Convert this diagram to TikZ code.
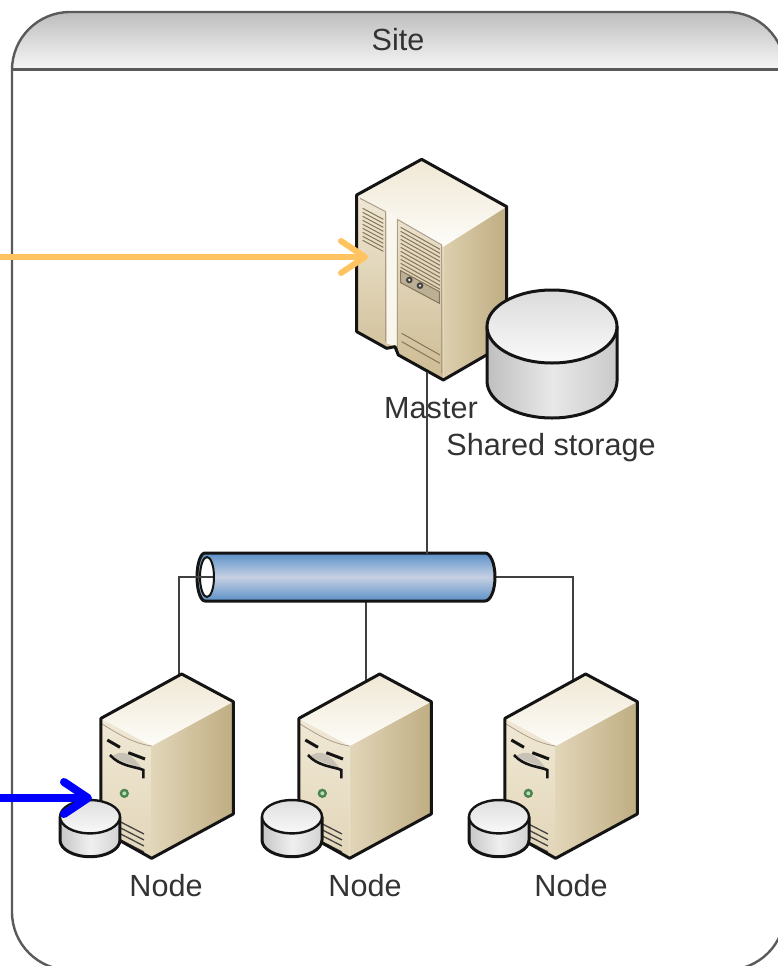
\documentclass[tikz,border=0pt]{standalone}
\usepackage{fontspec}
\setmainfont{Liberation Sans}
\usetikzlibrary{arrows.meta}
\definecolor{outline}{HTML}{141414}
\definecolor{beigeA}{HTML}{F0E8D5}
\definecolor{beigeB}{HTML}{DDCFAE}
\definecolor{beigeC}{HTML}{BFAD82}
\definecolor{beigeD}{HTML}{E2D6B9}
\definecolor{beigeE}{HTML}{CDBB92}
\definecolor{beigeTop}{HTML}{FDFCF8}
\definecolor{ventcol}{HTML}{85755A}
\definecolor{txtcol}{HTML}{333333}
\definecolor{framecol}{HTML}{5A5A5A}
\definecolor{amberline}{HTML}{FFC35F}
\definecolor{pipeA}{HTML}{5B90C8}
\definecolor{pipeB}{HTML}{C6D0E2}
\tikzset{
  lbl/.style={font=\fontsize{30.6}{36}\selectfont,text=txtcol,inner sep=0pt},
  shape outline/.style={draw=outline,line width=3pt,line join=round},
  conn/.style={draw=black!75,line width=1.6pt},
  flow/.style={line width=#1,line cap=round,-{Straight Barb[length=24pt,width=32pt,round]}},
  vent/.style={draw=ventcol,line width=1pt},
  minicyl/.pic={
    \begin{scope}[x=0.3333pt,y=-0.3333pt]
      \path[shade,left color=gray!45,right color=gray!35,middle color=gray!12]
        (-90,-45) -- (-90,25) arc[x radius=90,y radius=50,start angle=180,end angle=0] -- (90,-45) -- cycle;
      \draw[shape outline] (-90,-45) -- (-90,25) arc[x radius=90,y radius=50,start angle=180,end angle=0] -- (90,-45);
      \draw[shape outline,line width=2.4pt,top color=gray!25,bottom color=gray!5] (0,-45) ellipse[x radius=90,y radius=50];
    \end{scope}
  },
  nodesrv/.pic={
    \begin{scope}[x=0.3333pt,y=-0.3333pt]
      \shade[top color=beigeA,bottom color=beigeD] (303,175) -- (455,258) -- (455,595) -- (303,510) -- cycle;
      \shade[left color=beigeD,middle color=beigeA,right color=beigeC] (455,258) -- (700,125) -- (700,462) -- (455,595) -- cycle;
      \shade[top color=beigeA,bottom color=beigeTop] (303,175) -- (545,42) -- (700,125) -- (455,258) -- cycle;
      \draw[draw=ventcol!70,line width=.8pt] (303,190) .. controls (360,225) and (400,250) .. (455,258);
      \fill[ventcol!45!white] (335,290) .. controls (365,265) and (395,280) .. (425,325) -- (370,305) -- cycle;
      \draw[outline,line width=3pt] (322,240) -- (360,262);
      \draw[outline,line width=3pt] (385,278) -- (435,297);
      \draw[outline,line width=2.6pt] (330,285) .. controls (360,320) and (410,320) .. (430,330) -- (430,355);
      \fill[green!30!black!70] (373,400) circle[radius=14];
      \fill[green!40!gray!40] (373,400) circle[radius=6];
      \foreach \k in {0,1,2,3}{\draw[outline!80,line width=1.3pt] (360,{485+\k*18}) -- (432,{522+\k*18});}
      \draw[shape outline] (303,175) -- (545,42) -- (700,125) -- (700,462) -- (455,595) -- (303,510) -- cycle;
    \end{scope}
  }
}
\begin{document}
\begin{tikzpicture}[x=1pt,y=-1pt]
\useasboundingbox (0,0) rectangle (778,966);
\fill[white] (0,0) rectangle (778,966);

% frame
\begin{scope}
  \clip (0,0) rectangle (778,966);
  \begin{scope}
    \clip[rounded corners=58pt] (12,12) rectangle (785,200);
    \shade[top color=gray!52,bottom color=gray!6] (12,12) rectangle (785,70);
  \end{scope}
  \draw[framecol,line width=2.4pt,rounded corners=58pt] (12,12) rectangle (785,970);
  \draw[framecol,line width=3pt] (12,70) -- (785,70);
\end{scope}
\node[lbl] (site) at (398,40) {Site};

% anchor points
\coordinate (pipeL) at (213,577);
\coordinate (pipeR) at (495,577);
\coordinate (pipeT) at (427,554);
\coordinate (pipeB) at (366,600);
\coordinate (srvA) at (179,674);
\coordinate (srvB) at (366,682);
\coordinate (srvC) at (573,681);
\coordinate (mast) at (427,372);

% connectors beneath the shapes
\draw[conn] (pipeB) -- (srvB);
\draw[conn] (pipeR) -| (srvC);

% pipe
\path[shade,top color=pipeA,bottom color=pipeA,middle color=pipeB]
  (205,553) -- (485,553) arc[x radius=10,y radius=24,start angle=-90,end angle=90] -- (205,601) arc[x radius=8,y radius=24,start angle=90,end angle=270] -- cycle;
\draw[shape outline] (205,553) -- (485,553) arc[x radius=10,y radius=24,start angle=-90,end angle=90] -- (205,601) arc[x radius=8,y radius=24,start angle=90,end angle=270] -- cycle;
\draw[outline,line width=2pt,fill=white] (207,577) ellipse[x radius=7,y radius=20];
\draw[conn] (srvA) |- (pipeL);

% master server
\begin{scope}[shift={(340,150)},x=0.3333pt,y=-0.3333pt]
  \shade[top color=beigeA,bottom color=beigeE] (50,135) -- (310,290) -- (310,690) -- (175,615) -- (165,590) -- (140,595) -- (50,545) -- cycle;
  \shade[left color=beigeB,middle color=beigeA,right color=beigeC] (310,290) -- (500,170) -- (500,580) -- (310,690) -- cycle;
  \shade[top color=beigeA,bottom color=beigeTop] (50,135) -- (245,28) -- (500,170) -- (310,290) -- cycle;
  \fill[beigeTop!70!beigeA] (140,185) -- (170,195) -- (170,590) -- (140,580) -- cycle;
  \draw[ventcol!70,line width=1pt] (172,208) -- (305,285) -- (305,670);
  \draw[ventcol!70,line width=1pt] (172,208) -- (172,600);
  \draw[ventcol!70,line width=1pt] (60,145) -- (137,185) -- (137,575);
  \foreach \k in {0,...,8}{\draw[vent] (68,{175+\k*12}) -- (130,{208+\k*12});}
  \foreach \k in {0,...,10}{\draw[vent] (182,{232+\k*12}) -- (300,{298+\k*12});}
  \fill[beigeB!85!black] (182,362) -- (298,425) -- (298,460) -- (182,398) -- cycle;
  \draw[ventcol,line width=1pt] (182,362) -- (298,425) -- (298,460) -- (182,398) -- cycle;
  \fill[outline!80] (208,390) circle[radius=10] (240,407) circle[radius=10];
  \fill[beigeA] (208,390) circle[radius=4] (240,407) circle[radius=4];
  \draw[vent] (185,550) -- (300,615);
  \draw[vent] (185,575) -- (300,640);
  \draw[shape outline] (50,135) -- (245,28) -- (500,170) -- (500,580) -- (310,690) -- (175,615) -- (165,590) -- (140,595) -- (50,545) -- cycle;
\end{scope}

% shared storage
\path[shade,left color=gray!50,right color=gray!42,middle color=gray!18]
  (487,326) -- (487,381) arc[x radius=65,y radius=37,start angle=180,end angle=0] -- (617,326) -- cycle;
\draw[shape outline] (487,326) -- (487,381) arc[x radius=65,y radius=37,start angle=180,end angle=0] -- (617,326);
\draw[shape outline,top color=gray!28,bottom color=gray!4] (552,326.5) ellipse[x radius=65,y radius=36.5];

% node servers and their disks
\pic at (0,660) {nodesrv};
\pic at (198,660) {nodesrv};
\pic at (404,660) {nodesrv};
\pic at (90,831.7) {minicyl};
\pic at (292,831.7) {minicyl};
\pic at (499,831.7) {minicyl};

% labels
\node[lbl] (master) at (431,408) {Master};
\node[lbl] (shared) at (551,448) {Shared storage};
\node[lbl] (n1) at (166,886) {Node};
\node[lbl] (n2) at (365,886) {Node};
\node[lbl] (n3) at (571,886) {Node};
\draw[conn] (mast) -- (pipeT);

% arrows
\coordinate (amberS) at (-5,257);
\coordinate (amberE) at (368,257);
\coordinate (blueS) at (-5,798);
\coordinate (blueE) at (92,798);
\draw[amberline,flow=6pt] (amberS) -- (amberE);
\draw[blue,flow=8pt] (blueS) -- (blueE);
\end{tikzpicture}
\end{document}
